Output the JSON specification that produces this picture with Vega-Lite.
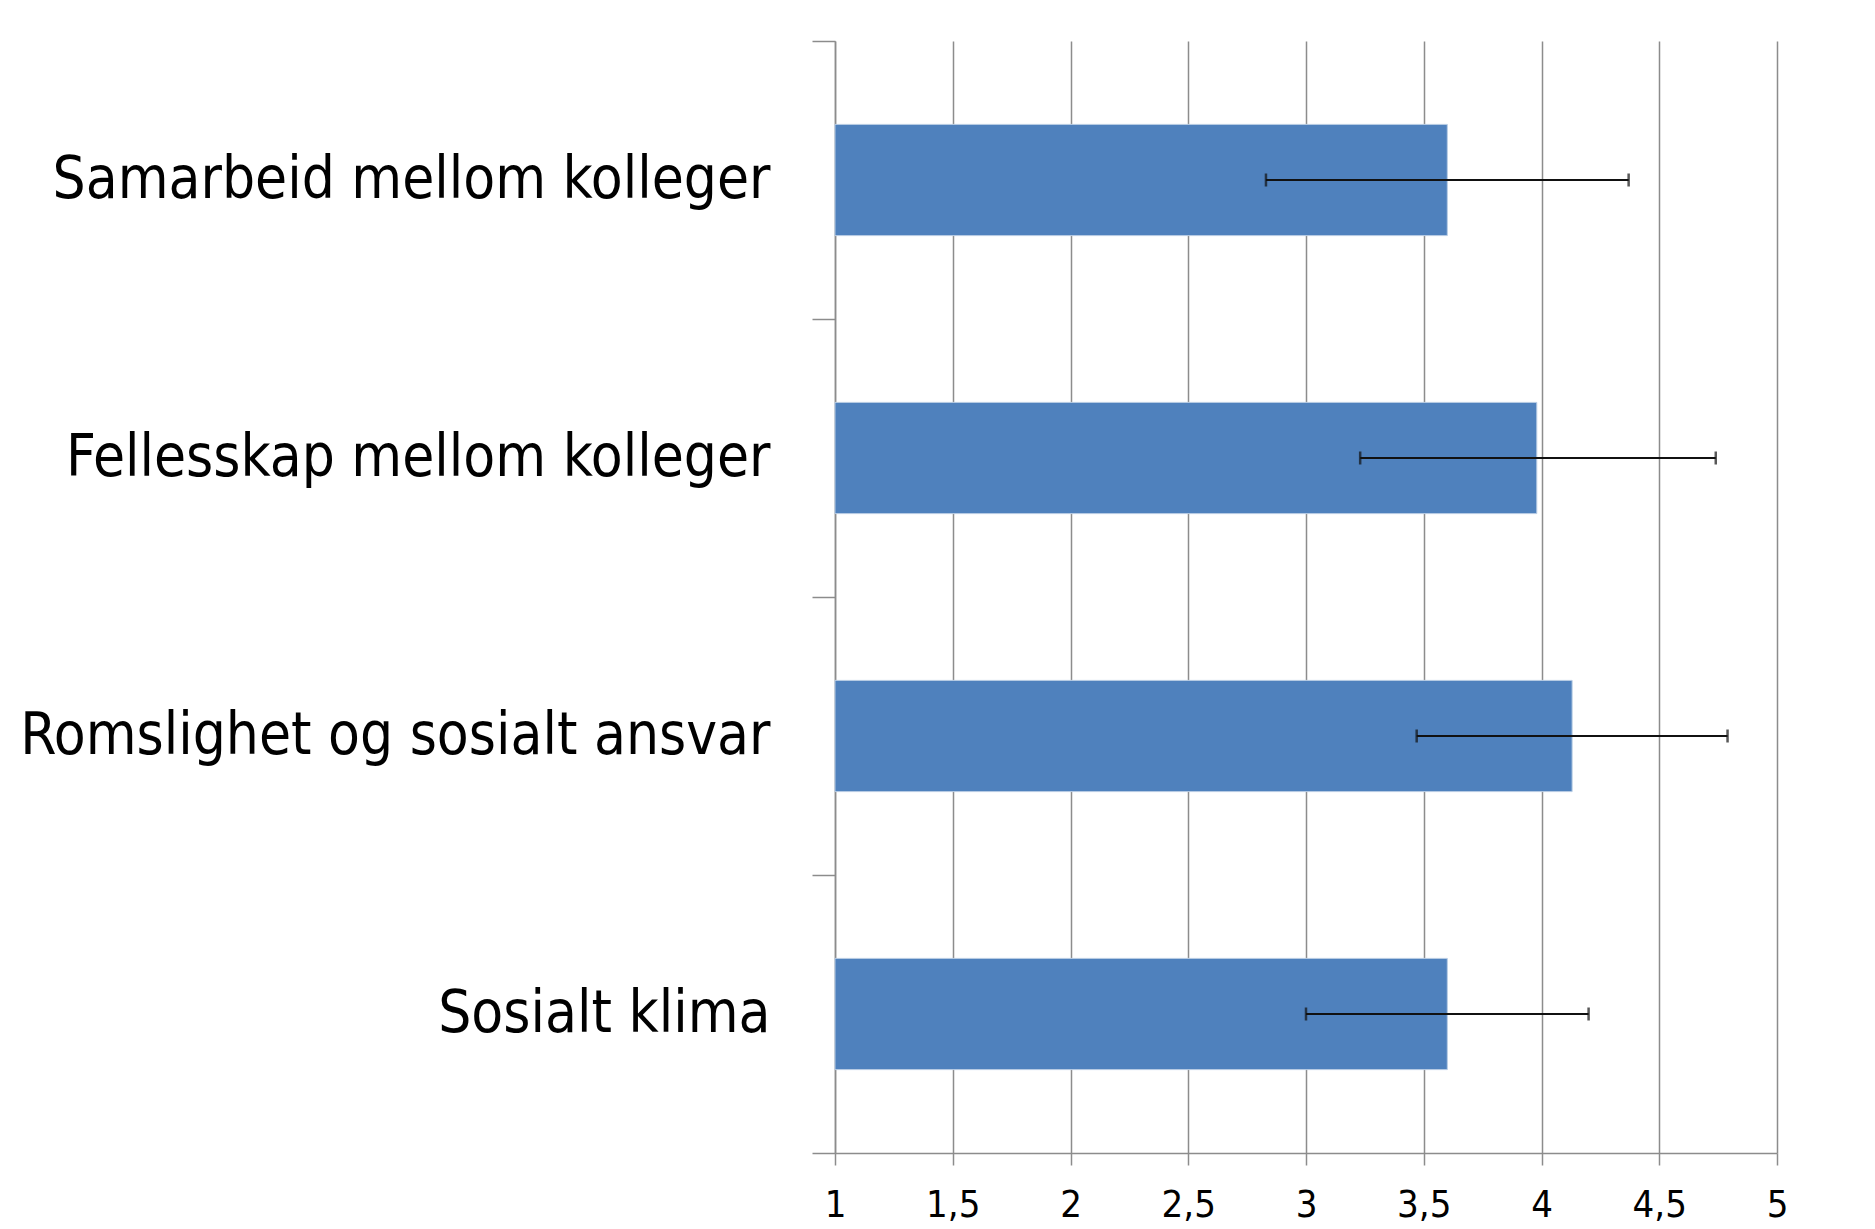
{
  "$schema": "https://vega.github.io/schema/vega-lite/v6.json",
  "autosize": "none",
  "width": 942,
  "height": 1112,
  "padding": {"left": 835, "top": 41, "right": 98, "bottom": 76},
  "background": "white",
  "data": {
    "values": [
      {"kategori": "Samarbeid mellom kolleger", "snitt": 3.60, "lav": 2.83, "hoy": 4.37},
      {"kategori": "Fellesskap mellom kolleger", "snitt": 3.98, "lav": 3.23, "hoy": 4.74},
      {"kategori": "Romslighet og sosialt ansvar", "snitt": 4.13, "lav": 3.47, "hoy": 4.79},
      {"kategori": "Sosialt klima", "snitt": 3.60, "lav": 3.00, "hoy": 4.20}
    ]
  },
  "encoding": {
    "y": {
      "field": "kategori",
      "type": "nominal",
      "sort": null,
      "title": null,
      "scale": {"paddingInner": 0, "paddingOuter": 0},
      "axis": {
        "tickBand": "extent",
        "tickSize": 23,
        "tickColor": "#8c8c8c",
        "tickWidth": 1.5,
        "domainColor": "#8c8c8c",
        "domainWidth": 1.5,
        "labelFont": "DejaVu Sans Condensed",
        "labelFontSize": 58,
        "labelColor": "#000000",
        "labelPadding": 42,
        "labelLimit": 1000,
        "grid": false
      }
    }
  },
  "layer": [
    {
      "mark": {"type": "bar", "color": "#4F81BD", "stroke": "#b8cce4", "strokeWidth": 1, "height": {"band": 0.4}},
      "encoding": {
        "x": {
          "field": "snitt",
          "type": "quantitative",
          "title": null,
          "scale": {"domain": [1, 5], "nice": false, "zero": false},
          "axis": {
            "values": [1, 1.5, 2, 2.5, 3, 3.5, 4, 4.5, 5],
            "labelExpr": "replace(toString(datum.value), '.', ',')",
            "grid": true,
            "gridColor": "#8c8c8c",
            "gridWidth": 1.5,
            "tickSize": 12,
            "tickColor": "#8c8c8c",
            "tickWidth": 1.5,
            "domainColor": "#8c8c8c",
            "domainWidth": 1.5,
            "labelFont": "DejaVu Sans Condensed",
            "labelFontSize": 38,
            "labelColor": "#000000",
            "labelPadding": 21,
            "labelFlush": false
          }
        },
        "x2": {"datum": 1}
      }
    },
    {
      "mark": {
        "type": "errorbar",
        "color": "#111111",
        "rule": {"strokeWidth": 2},
        "ticks": {"size": 13, "thickness": 2.5, "color": "#111111"}
      },
      "encoding": {
        "x": {"field": "lav", "type": "quantitative"},
        "x2": {"field": "hoy"}
      }
    }
  ],
  "config": {
    "view": {"stroke": null}
  }
}
